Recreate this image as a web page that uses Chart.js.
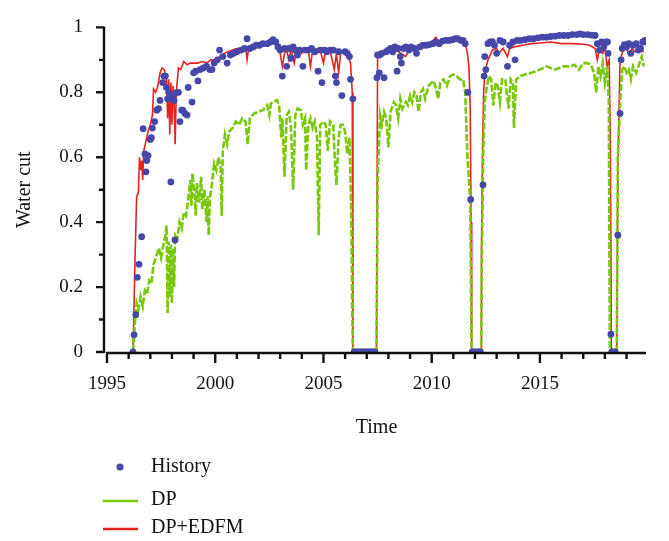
<!DOCTYPE html>
<html>
<head>
<meta charset="utf-8">
<title>Water cut</title>
<script src="https://cdn.jsdelivr.net/npm/chart.js@4.4.1/dist/chart.umd.min.js"></script>
<style>
    html, body { margin: 0; padding: 0; background: #fff; }
    #chart { display: block; }
</style>
</head>
<body>
<canvas id="chart" width="669" height="541"></canvas>
<script>
// History (observed) water cut
const histYears = [
    1996.2, 1996.25, 1996.33, 1996.4, 1996.48, 1996.6, 1996.67, 1996.75, 1996.8, 1996.84,
    1996.9, 1997.0, 1997.05, 1997.1, 1997.2, 1997.3, 1997.38, 1997.45, 1997.57, 1997.63,
    1997.7, 1997.75, 1997.8, 1997.85, 1997.95, 1998.0, 1998.05, 1998.1, 1998.14, 1998.23,
    1998.3, 1998.37, 1998.45, 1998.5, 1998.6, 1998.7, 1998.75, 1998.93, 1999.0, 1999.1,
    1999.2, 1999.3, 1999.45, 1999.6, 1999.75, 1999.85, 1999.95, 2000.1, 2000.2, 2000.35,
    2000.55, 2000.7, 2000.85, 2001.0, 2001.2, 2001.35, 2001.47, 2001.6, 2001.75, 2001.9,
    2002.05, 2002.2, 2002.4, 2002.55, 2002.67, 2002.8, 2002.9, 2003.0, 2003.1, 2003.2,
    2003.3, 2003.4, 2003.5, 2003.6, 2003.7, 2003.8, 2003.9, 2004.05, 2004.15, 2004.3,
    2004.45, 2004.6, 2004.75, 2004.85, 2004.93, 2005.05, 2005.15, 2005.3, 2005.45, 2005.55,
    2005.6, 2005.7, 2005.85, 2006.0, 2006.1, 2006.2, 2006.25, 2006.36,
    2006.42, 2006.5, 2006.58, 2006.66, 2006.74, 2006.82, 2006.9, 2006.98, 2007.06, 2007.14,
    2007.22, 2007.3, 2007.38,
    2007.47, 2007.5, 2007.58, 2007.6, 2007.7, 2007.8, 2007.9, 2008.0, 2008.1, 2008.2,
    2008.3, 2008.4, 2008.45, 2008.55, 2008.6, 2008.7, 2008.8, 2008.95, 2009.05, 2009.2,
    2009.3, 2009.45, 2009.6, 2009.75, 2009.9, 2010.05, 2010.2, 2010.35, 2010.5, 2010.65,
    2010.8, 2010.95, 2011.1, 2011.2, 2011.35, 2011.45, 2011.55, 2011.67, 2011.8,
    2011.87, 2011.95, 2012.03, 2012.1, 2012.18, 2012.25,
    2012.37, 2012.42, 2012.45, 2012.5, 2012.6, 2012.7, 2012.8, 2012.9, 2013.0, 2013.15,
    2013.3, 2013.5, 2013.6, 2013.75, 2013.85, 2013.95, 2014.1, 2014.3, 2014.5, 2014.7,
    2014.9, 2015.1, 2015.3, 2015.5, 2015.7, 2015.9, 2016.1, 2016.3, 2016.5, 2016.7,
    2016.85, 2017.0, 2017.2, 2017.4, 2017.55, 2017.65, 2017.75, 2017.85, 2017.95, 2018.05,
    2018.12, 2018.15, 2018.28, 2018.32, 2018.4, 2018.48,
    2018.6, 2018.7, 2018.75, 2018.8, 2018.9, 2019.0, 2019.1, 2019.2, 2019.3, 2019.45,
    2019.55, 2019.65, 2019.75, 2019.85, 2019.9
];
const histValues = [
    0, 0.053, 0.115, 0.23, 0.27, 0.355, 0.688, 0.61, 0.555, 0.59,
    0.605, 0.655, 0.66, 0.69, 0.71, 0.745, 0.75, 0.775, 0.83, 0.85,
    0.85, 0.815, 0.78, 0.80, 0.524, 0.78, 0.79, 0.775, 0.345, 0.80,
    0.80, 0.71, 0.745, 0.745, 0.735, 0.73, 0.815, 0.77, 0.86, 0.865,
    0.835, 0.87, 0.875, 0.88, 0.87, 0.87, 0.89, 0.90, 0.93, 0.91,
    0.89, 0.915, 0.92, 0.925, 0.93, 0.935, 0.965, 0.935, 0.94, 0.945,
    0.945, 0.95, 0.95, 0.955, 0.962, 0.955, 0.94, 0.93, 0.85, 0.935,
    0.88, 0.935, 0.905, 0.94, 0.93, 0.915, 0.93, 0.88, 0.93, 0.93,
    0.935, 0.925, 0.865, 0.93, 0.83, 0.93, 0.925, 0.93, 0.93, 0.85,
    0.83, 0.925, 0.79, 0.925, 0.92, 0.91, 0.84, 0.78,
    0, 0, 0, 0, 0, 0, 0, 0, 0, 0,
    0, 0, 0,
    0.845, 0.915, 0.86, 0.915, 0.92, 0.845, 0.925, 0.93, 0.935, 0.925,
    0.94, 0.865, 0.935, 0.91, 0.89, 0.935, 0.94, 0.93, 0.94, 0.935,
    0.92, 0.94, 0.945, 0.945, 0.947, 0.95, 0.955, 0.95, 0.958, 0.96,
    0.96, 0.962, 0.965, 0.965, 0.96, 0.96, 0.95, 0.80, 0.47,
    0, 0, 0, 0, 0, 0,
    0.515, 0.85, 0.91, 0.87, 0.95, 0.955, 0.956, 0.945, 0.92, 0.96,
    0.955, 0.88, 0.945, 0.955, 0.90, 0.96, 0.96, 0.962, 0.965, 0.965,
    0.968, 0.97, 0.97, 0.972, 0.973, 0.975, 0.975, 0.975, 0.978, 0.978,
    0.98, 0.978, 0.978, 0.976, 0.975, 0.95, 0.93, 0.955, 0.94, 0.955,
    0.955, 0.92, 0.055, 0, 0, 0,
    0.36, 0.735, 0.90, 0.935, 0.947, 0.94, 0.95, 0.92, 0.945, 0.95,
    0.93, 0.935, 0.955, 0.96, 0.955
];

// DP model
const dpYears = [
    1996.2, 1996.3, 1996.37, 1996.45, 1996.55, 1996.65, 1996.75, 1996.85, 1996.95, 1997.05,
    1997.15, 1997.3, 1997.4, 1997.5, 1997.6, 1997.7, 1997.75, 1997.8, 1997.85, 1997.9,
    1997.95, 1998.0, 1998.05, 1998.1, 1998.15, 1998.25, 1998.35, 1998.45, 1998.55, 1998.65,
    1998.75, 1998.85, 1998.9, 1998.95, 1999.05, 1999.1, 1999.15, 1999.25, 1999.35, 1999.4,
    1999.5, 1999.6, 1999.65, 1999.7, 1999.75, 1999.85, 1999.95, 2000.05, 2000.15, 2000.25,
    2000.3, 2000.35, 2000.45, 2000.55, 2000.65, 2000.8, 2000.95, 2001.1, 2001.25, 2001.4,
    2001.5, 2001.6, 2001.8, 2002.0, 2002.2, 2002.4, 2002.5, 2002.57, 2002.7, 2002.85,
    2002.95, 2003.05, 2003.1, 2003.2, 2003.3, 2003.4, 2003.5, 2003.6, 2003.7, 2003.8,
    2003.95, 2004.05, 2004.15, 2004.2, 2004.3, 2004.4, 2004.5, 2004.6, 2004.7, 2004.78,
    2004.85, 2005.0, 2005.1, 2005.2, 2005.3, 2005.45, 2005.55, 2005.6, 2005.7, 2005.8,
    2005.9, 2006.0, 2006.1, 2006.2, 2006.28, 2006.33, 2006.36,
    2007.45, 2007.5, 2007.55, 2007.62, 2007.7, 2007.8, 2007.9, 2008.0, 2008.1, 2008.25,
    2008.35, 2008.45, 2008.55, 2008.65, 2008.8, 2008.9, 2009.0, 2009.1, 2009.2, 2009.3,
    2009.4, 2009.5, 2009.6, 2009.7, 2009.85, 2010.0, 2010.1, 2010.2, 2010.3, 2010.4,
    2010.55, 2010.7, 2010.85, 2011.0, 2011.15, 2011.3, 2011.45, 2011.55, 2011.65, 2011.72,
    2011.78, 2011.84,
    2012.28, 2012.32, 2012.38, 2012.45, 2012.55, 2012.65, 2012.75, 2012.85, 2012.95, 2013.05,
    2013.15, 2013.25, 2013.4, 2013.55, 2013.65, 2013.75, 2013.8, 2013.9, 2014.1, 2014.3,
    2014.6, 2014.8, 2015.0, 2015.3, 2015.5, 2015.7, 2015.9, 2016.1, 2016.4, 2016.6,
    2016.8, 2017.0, 2017.2, 2017.35, 2017.5, 2017.6, 2017.7, 2017.8, 2017.9, 2018.0,
    2018.1, 2018.18, 2018.23,
    2018.55, 2018.6, 2018.7, 2018.8, 2018.9, 2019.0, 2019.1, 2019.2, 2019.3, 2019.45,
    2019.6, 2019.7, 2019.8
];
const dpValues = [
    0, 0.10, 0.15, 0.13, 0.17, 0.14, 0.19, 0.18, 0.22, 0.21,
    0.27, 0.30, 0.32, 0.29, 0.33, 0.36, 0.39, 0.12, 0.34, 0.17,
    0.33, 0.15, 0.32, 0.20, 0.36, 0.35, 0.40, 0.38, 0.43, 0.42,
    0.47, 0.53, 0.45, 0.55, 0.48, 0.42, 0.52, 0.46, 0.54, 0.44,
    0.50, 0.40, 0.48, 0.36, 0.47, 0.52, 0.58, 0.56, 0.60, 0.57,
    0.42, 0.62, 0.67, 0.64, 0.68, 0.69, 0.71, 0.70, 0.72, 0.71,
    0.64, 0.72, 0.735, 0.74, 0.745, 0.76, 0.73, 0.765, 0.77, 0.776,
    0.76, 0.66, 0.72, 0.54, 0.73, 0.74, 0.69, 0.50, 0.73, 0.75,
    0.745, 0.70, 0.72, 0.56, 0.70, 0.72, 0.69, 0.71, 0.66, 0.36,
    0.70, 0.71, 0.70, 0.62, 0.71, 0.70, 0.56, 0.515, 0.66, 0.70,
    0.70, 0.68, 0.61, 0.66, 0.45, 0.12, 0,
    0, 0.51, 0.62, 0.73, 0.70, 0.74, 0.72, 0.63, 0.74, 0.77,
    0.76, 0.72, 0.78, 0.75, 0.77, 0.76, 0.79, 0.77, 0.80, 0.79,
    0.74, 0.80, 0.81, 0.78, 0.82, 0.83, 0.835, 0.81, 0.78, 0.83,
    0.84, 0.82, 0.85, 0.855, 0.85, 0.84, 0.84, 0.80, 0.60, 0.535,
    0.455, 0,
    0, 0.30, 0.61, 0.77, 0.82, 0.85, 0.84, 0.76, 0.83, 0.82,
    0.77, 0.84, 0.84, 0.75, 0.84, 0.83, 0.69, 0.84, 0.85, 0.855,
    0.86, 0.865, 0.87, 0.88, 0.875, 0.87, 0.875, 0.88, 0.88, 0.885,
    0.87, 0.89, 0.89, 0.885, 0.86, 0.80, 0.88, 0.85, 0.89, 0.83,
    0.88, 0.78, 0,
    0, 0.60, 0.76, 0.87, 0.88, 0.86, 0.87, 0.84, 0.88, 0.86,
    0.89, 0.91, 0.88
];

// DP+EDFM model
const edfmYears = [
    1996.2, 1996.3, 1996.37, 1996.45, 1996.5, 1996.55, 1996.6, 1996.65, 1996.7, 1996.8,
    1996.9, 1997.0, 1997.1, 1997.15, 1997.25, 1997.35, 1997.45, 1997.55, 1997.65, 1997.75,
    1997.8, 1997.85, 1997.9, 1997.95, 1998.0, 1998.05, 1998.1, 1998.15, 1998.2, 1998.3,
    1998.4, 1998.55, 1998.7, 1998.85, 1999.0, 1999.2, 1999.4, 1999.6, 1999.8, 2000.0,
    2000.2, 2000.4, 2000.6, 2000.8, 2001.0, 2001.2, 2001.4, 2001.47, 2001.55, 2001.8,
    2002.0, 2002.2, 2002.5, 2002.7, 2002.9, 2003.0, 2003.1, 2003.2, 2003.3, 2003.4,
    2003.5, 2003.65, 2003.75, 2003.9, 2004.0, 2004.1, 2004.3, 2004.4, 2004.5, 2004.7,
    2004.85, 2005.0, 2005.1, 2005.3, 2005.5, 2005.6, 2005.7, 2005.8, 2005.95, 2006.1,
    2006.25, 2006.33, 2006.36,
    2007.45, 2007.5, 2007.7, 2008.0, 2008.3, 2008.6, 2008.8, 2008.95, 2009.2, 2009.5,
    2009.8, 2010.0, 2010.2, 2010.3, 2010.6, 2011.0, 2011.4, 2011.55, 2011.65, 2011.72,
    2011.78, 2011.82, 2011.85,
    2012.28, 2012.3, 2012.35, 2012.4, 2012.45, 2012.6, 2012.8, 2013.0, 2013.1, 2013.3,
    2013.5, 2013.6, 2013.8, 2014.2, 2014.6, 2015.0, 2015.5, 2016.0, 2016.5, 2017.0,
    2017.3, 2017.55, 2017.65, 2017.75, 2017.9, 2018.0, 2018.1, 2018.2, 2018.26, 2018.3,
    2018.55, 2018.6, 2018.7, 2018.85, 2019.0, 2019.1, 2019.25, 2019.4, 2019.6, 2019.8
];
const edfmValues = [
    0, 0.30, 0.48, 0.49, 0.60, 0.56, 0.59, 0.53, 0.62, 0.65,
    0.68, 0.70, 0.73, 0.81, 0.80, 0.82, 0.86, 0.875, 0.87, 0.84,
    0.72, 0.84, 0.67, 0.83, 0.70, 0.82, 0.77, 0.64, 0.80, 0.875,
    0.87, 0.895, 0.885, 0.89, 0.89, 0.89, 0.895, 0.89, 0.90, 0.90,
    0.91, 0.92, 0.925, 0.93, 0.935, 0.935, 0.94, 0.90, 0.94, 0.945,
    0.95, 0.952, 0.955, 0.956, 0.945, 0.92, 0.88, 0.92, 0.93, 0.90,
    0.935, 0.89, 0.93, 0.935, 0.92, 0.935, 0.93, 0.88, 0.93, 0.935,
    0.93, 0.89, 0.93, 0.93, 0.87, 0.92, 0.86, 0.925, 0.93, 0.92,
    0.89, 0.80, 0,
    0, 0.91, 0.915, 0.925, 0.93, 0.92, 0.91, 0.93, 0.935, 0.94,
    0.95, 0.955, 0.97, 0.955, 0.96, 0.965, 0.96, 0.95, 0.92, 0.88,
    0.75, 0.40, 0,
    0, 0.32, 0.63, 0.80, 0.86, 0.90, 0.93, 0.935, 0.92, 0.935,
    0.91, 0.935, 0.94, 0.945, 0.95, 0.952, 0.955, 0.95, 0.95, 0.948,
    0.945, 0.935, 0.90, 0.935, 0.92, 0.94, 0.88, 0.90, 0.60, 0,
    0, 0.55, 0.90, 0.93, 0.935, 0.915, 0.935, 0.925, 0.93, 0.925
];

const yTickValues = [0, 0.2, 0.4, 0.6, 0.8, 1];
const xTickYears = [1995, 2000, 2005, 2010, 2015];

const HIST_COLOR = "#4747a9";
const DP_COLOR = "#79c80d";
const EDFM_COLOR = "#e3231c";
const SERIF = "'Liberation Serif', 'DejaVu Serif', serif";

function toPoints(xs, ys) {
    return xs.map((x, i) => ({ x: x, y: ys[i] }));
}

// axis lines, major/minor ticks and the legend, drawn through the chart's scales
const axesAndLegend = {
    id: "axesAndLegend",
    afterDraw(chart) {
        const ctx = chart.ctx;
        const xs = chart.scales.x;
        const ys = chart.scales.y;
        const area = chart.chartArea;
        ctx.save();
        ctx.strokeStyle = "#111";
        ctx.lineWidth = 2.4;
        ctx.lineCap = "butt";

        // y axis
        const yAxisX = area.left - 3;
        ctx.beginPath();
        ctx.moveTo(yAxisX, ys.getPixelForValue(1) - 1);
        ctx.lineTo(yAxisX, ys.getPixelForValue(0) + 1);
        for (let i = 0; i <= 10; i++) {
            const py = ys.getPixelForValue(i / 10);
            const len = i % 2 === 0 ? 8 : 5;
            ctx.moveTo(yAxisX, py);
            ctx.lineTo(yAxisX - len, py);
        }
        ctx.stroke();

        // x axis
        const xAxisY = area.bottom + 1;
        ctx.beginPath();
        ctx.moveTo(xs.getPixelForValue(1995) - 1, xAxisY);
        ctx.lineTo(area.right, xAxisY);
        for (let yr = 1995; yr <= 2019; yr++) {
            const px = xs.getPixelForValue(yr);
            const len = yr % 5 === 0 ? 10 : 6;
            ctx.moveTo(px, xAxisY);
            ctx.lineTo(px, xAxisY + len);
        }
        ctx.stroke();

        // legend
        ctx.font = "20px " + SERIF;
        ctx.fillStyle = "#111";
        ctx.textBaseline = "middle";
        ctx.textAlign = "left";

        ctx.beginPath();
        ctx.fillStyle = HIST_COLOR;
        ctx.arc(120, 467, 3.6, 0, Math.PI * 2);
        ctx.fill();
        ctx.fillStyle = "#111";
        ctx.fillText("History", 151, 467);

        ctx.lineWidth = 2.5;
        ctx.strokeStyle = DP_COLOR;
        ctx.beginPath();
        ctx.moveTo(103, 501);
        ctx.lineTo(138, 501);
        ctx.stroke();
        ctx.fillText("DP", 151, 500);

        ctx.strokeStyle = EDFM_COLOR;
        ctx.beginPath();
        ctx.moveTo(103, 529);
        ctx.lineTo(138, 529);
        ctx.stroke();
        ctx.fillText("DP+EDFM", 151, 528);

        ctx.restore();
    }
};

document.addEventListener("DOMContentLoaded", () => {
    const ctx = document.getElementById("chart").getContext("2d");

    new Chart(ctx, {
        type: "scatter",
        data: {
            datasets: [
                {
                    label: "History",
                    data: toPoints(histYears, histValues),
                    showLine: false,
                    pointRadius: 3.4,
                    pointHoverRadius: 3.4,
                    pointBorderWidth: 0,
                    backgroundColor: HIST_COLOR,
                    borderColor: HIST_COLOR,
                    order: 0
                },
                {
                    label: "DP",
                    data: toPoints(dpYears, dpValues),
                    showLine: true,
                    borderColor: DP_COLOR,
                    borderWidth: 2.6,
                    borderDash: [7, 2],
                    pointRadius: 0,
                    tension: 0,
                    order: 1
                },
                {
                    label: "DP+EDFM",
                    data: toPoints(edfmYears, edfmValues),
                    showLine: true,
                    borderColor: EDFM_COLOR,
                    borderWidth: 1.6,
                    pointRadius: 0,
                    tension: 0,
                    order: 2
                }
            ]
        },
        options: {
            responsive: false,
            animation: false,
            events: [],
            layout: {
                padding: { top: 12, right: 23, bottom: 101, left: 0 }
            },
            plugins: {
                legend: { display: false },
                tooltip: { enabled: false }
            },
            scales: {
                x: {
                    type: "linear",
                    min: 1995,
                    max: 2019.9,
                    grid: { display: false },
                    border: { display: false },
                    afterFit: (scale) => { scale.height = 88; },
                    afterBuildTicks: (scale) => {
                        scale.ticks = xTickYears.map(v => ({ value: v }));
                    },
                    ticks: {
                        autoSkip: false,
                        maxRotation: 0,
                        padding: 13,
                        color: "#111",
                        font: { family: SERIF, size: 19 },
                        callback: (v) => String(v)
                    },
                    title: {
                        display: true,
                        text: "Time",
                        color: "#111",
                        padding: 0,
                        font: { family: SERIF, size: 20 }
                    }
                },
                y: {
                    type: "linear",
                    min: 0,
                    max: 1,
                    grid: { display: false },
                    border: { display: false },
                    afterFit: (scale) => { scale.width = 107; },
                    afterBuildTicks: (scale) => {
                        scale.ticks = yTickValues.map(v => ({ value: v }));
                    },
                    ticks: {
                        padding: 16,
                        color: "#111",
                        font: { family: SERIF, size: 19 },
                        callback: (v) => String(Math.round(v * 10) / 10)
                    },
                    title: {
                        display: true,
                        text: "Water cut",
                        color: "#111",
                        padding: { top: 13, bottom: 0 },
                        font: { family: SERIF, size: 20 }
                    }
                }
            }
        },
        plugins: [axesAndLegend]
    });
});
</script>
</body>
</html>
